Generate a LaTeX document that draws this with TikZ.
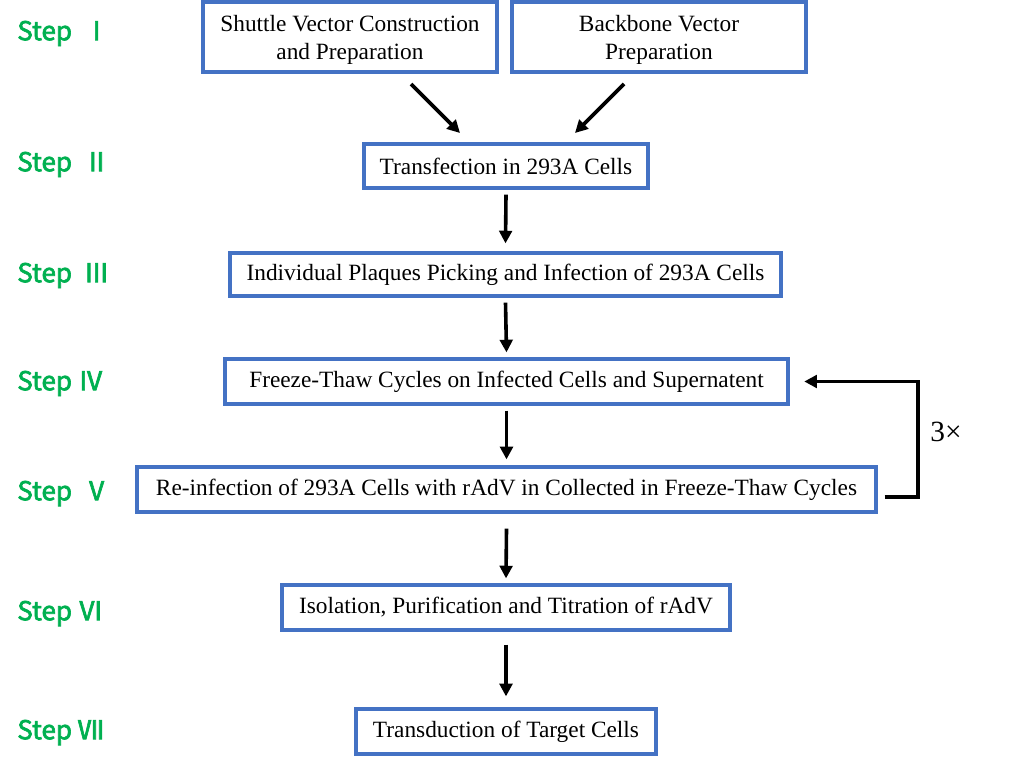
\documentclass[tikz,border=0pt]{standalone}
\usepackage{fontspec}
\setmainfont{Liberation Serif}
\newfontfamily\stepfont[FakeBold=2.5]{Noto Sans CJK SC}
\usetikzlibrary{arrows.meta}
\definecolor{boxblue}{HTML}{4472C4}
\definecolor{stepgreen}{HTML}{00B050}
\begin{document}
\begin{tikzpicture}[x=0.75pt,y=-0.75pt,
 box/.style={draw=boxblue, line width=2.4pt, align=center, inner sep=0pt, font=\fontsize{17.5}{21}\selectfont},
 steplabel/.style={anchor=west, text=stepgreen, font=\stepfont\fontsize{19.5}{21}\selectfont, inner sep=0pt},
 arr/.style={line width=2.7pt, -{Triangle[length=9.5pt,width=9.5pt]}}]
\useasboundingbox (0,0) rectangle (1024,762);
% step labels
\node[steplabel] (st1) at (17,33.5) {Step\ \ Ⅰ};
\node[steplabel] (st2) at (17,164.5) {Step\ \ Ⅱ};
\node[steplabel] (st3) at (17,275.5) {Step\ \ Ⅲ};
\node[steplabel] (st4) at (17,383.5) {Step\ Ⅳ};
\node[steplabel] (st5) at (17,493.5) {Step\ \ Ⅴ};
\node[steplabel] (st6) at (17,613.5) {Step\ Ⅵ};
\node[steplabel] (st7) at (17,732.5) {Step\ Ⅶ};
% boxes
\node[box, minimum width=220.5pt, minimum height=52.5pt] (shuttle) at (350,37) {\rule{0pt}{17pt}Shuttle Vector Construction\\and Preparation};
\node[box, minimum width=220.5pt, minimum height=52.5pt] (backbone) at (659,37) {\rule{0pt}{17pt}Backbone Vector\\Preparation};
\node[box, minimum width=213pt, minimum height=33pt] (trans) at (506,166) {Transfection in 293A Cells};
\node[box, minimum width=413.25pt, minimum height=32.25pt] (indiv) at (505.5,274.5) {Individual Plaques Picking and Infection of 293A Cells};
\node[box, minimum width=422.25pt, minimum height=33.75pt] (freeze) at (506.5,381.5) {Freeze-Thaw Cycles on Infected Cells and Supernatent};
\node[box, minimum width=554.25pt, minimum height=33.75pt] (reinf) at (506.5,489.5) {Re-infection of 293A Cells with rAdV in Collected in Freeze-Thaw Cycles};
\node[box, minimum width=336pt, minimum height=33.75pt] (iso) at (506,607.5) {Isolation, Purification and Titration of rAdV};
\node[box, minimum width=225pt, minimum height=33.75pt] (transd) at (506,731.5) {Transduction of Target Cells};
% diagonal arrows
\coordinate (s1) at (411,84); \coordinate (e1) at (460,133);
\coordinate (s2) at (624,84); \coordinate (e2) at (575,133);
\draw[arr] (s1) -- (e1);
\draw[arr] (s2) -- (e2);
% vertical arrows
\draw[arr] ([yshift=-3.75pt]trans.south) -- ([yshift=6pt]indiv.north);
\draw[arr] ([yshift=-3.75pt]indiv.south) -- ([yshift=3.75pt]freeze.north);
\draw[arr] ([yshift=-3.75pt]freeze.south) -- ([yshift=4.5pt]reinf.north);
\draw[arr] ([yshift=-11.25pt]reinf.south) -- ([yshift=3.75pt]iso.north);
\draw[arr] ([yshift=-9.75pt]iso.south) -- ([yshift=8.25pt]transd.north);
% loop
\coordinate (loopx) at (918,0);
\draw[arr] ([xshift=5.25pt,yshift=-5.6pt]reinf.east) -| (loopx |- freeze.east) -- ([xshift=11pt]freeze.east);
\node[font=\fontsize{22}{24}\selectfont, inner sep=0pt] (times) at (946,432) {3×};
\end{tikzpicture}
\end{document}
